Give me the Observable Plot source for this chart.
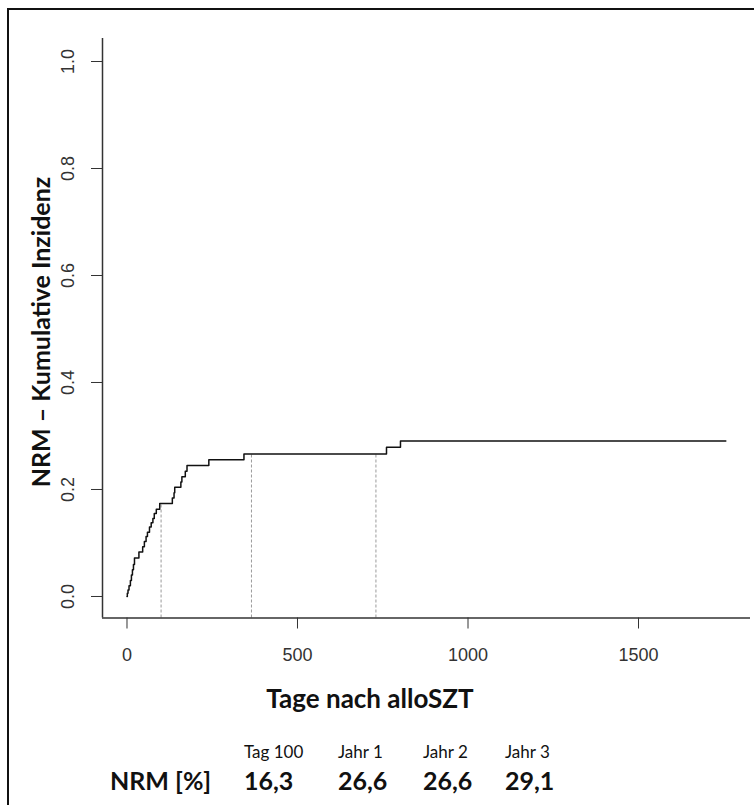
<!DOCTYPE html>
<html><head><meta charset="utf-8">
<script src="https://cdn.jsdelivr.net/npm/d3@7"></script>
<script src="https://cdn.jsdelivr.net/npm/@observablehq/plot@0.6"></script>
<style>
html,body{margin:0;padding:0;background:#fff;}
#wrap{position:relative;width:754px;height:805px;overflow:hidden;background:#fff;}
#border{position:absolute;left:7px;top:8px;width:900px;height:900px;border-left:2px solid #111;border-top:2px solid #111;z-index:5;pointer-events:none;}
#chart{position:absolute;left:0;top:0;}
.t{position:absolute;font-family:Lato,"Open Sans",sans-serif;color:#111;white-space:nowrap;line-height:1;}
#ytitle{left:40px;top:332px;font-size:25px;font-weight:700;transform:translate(-50%,-50%) rotate(-90deg);}
#xtitle{left:370px;top:698px;font-size:26px;font-weight:700;transform:translate(-50%,-50%);}
.lab{font-size:17px;font-weight:400;transform:translateY(-50%);}
.val{font-size:25px;font-weight:700;transform:translateY(-50%);}
</style></head><body>
<div id="wrap">
  <div id="chart"></div>
  <div class="t" id="ytitle"></div>
  <div class="t" id="xtitle"></div>
  <div id="table"></div>
  <div id="border"></div>
</div>
<script>
// ---- data ----
const eventDays   = [0, 1, 3, 6, 10, 13, 16, 19, 22, 35, 46, 51, 56, 60, 66, 71, 76, 80, 86, 96, 133, 138, 140, 158, 161, 171, 176, 240, 343, 761, 802];
const eventValues = [0, 0.006, 0.012, 0.02, 0.03, 0.04, 0.05, 0.06, 0.072, 0.083, 0.093, 0.103, 0.112, 0.12, 0.13, 0.138, 0.146, 0.155, 0.163, 0.174, 0.184, 0.194, 0.204, 0.214, 0.224, 0.234, 0.245, 0.2555, 0.2665, 0.279, 0.2905];
const lastDay = 1756;
const xTicks = [0, 500, 1000, 1500];
const yTicks = [0, 0.2, 0.4, 0.6, 0.8, 1.0];
const milestoneDays = [100, 365, 730];
const tableLabels = ["Tag 100", "Jahr 1", "Jahr 2", "Jahr 3"];
const tableValues = ["16,3", "26,6", "26,6", "29,1"];
const rowLabel = "NRM [%]";
const xTitle = "Tage nach alloSZT";
const yTitle = "NRM – Kumulative Inzidenz";

// ---- build ----
const points = eventDays.map((d, i) => ({day: d, value: eventValues[i]}));
points.push({day: lastDay, value: eventValues[eventValues.length - 1]});
const valueAt = day => { let v = 0; for (const p of points) if (p.day <= day) v = p.value; return v; };
const milestones = milestoneDays.map(d => ({day: d, value: valueAt(d)}));

const xDomain = [-71.8, 1828.4];
const yDomain = [-0.0402, 1.043];
const axisColor = "#333";

const chart = Plot.plot({
  width: 754, height: 670,
  marginLeft: 102, marginRight: 4, marginTop: 38, marginBottom: 52.5,
  x: {domain: xDomain},
  y: {domain: yDomain},
  style: {background: "transparent", fontFamily: "'Liberation Sans', Arial, sans-serif", color: axisColor},
  marks: [
    Plot.ruleX(milestones, {x: "day", y1: yDomain[0], y2: "value", stroke: "#9a9a9a", strokeWidth: 1, strokeDasharray: "3,2"}),
    Plot.line(points, {x: "day", y: "value", curve: "step-after", stroke: "#111", strokeWidth: 1.5}),
    Plot.ruleX([xDomain[0]], {stroke: axisColor, strokeWidth: 1.5}),
    Plot.ruleY([yDomain[0]], {stroke: axisColor, strokeWidth: 1.5}),
    Plot.axisX({ticks: xTicks, tickSize: 11, tickPadding: 19, fontSize: 18, label: null, stroke: axisColor, fill: axisColor, tickFormat: d => String(d)}),
    Plot.axisY({ticks: yTicks, tickSize: 11, label: null, stroke: axisColor, fill: "none", tickFormat: () => ""}),
    Plot.text(yTicks, {x: xDomain[0], y: d => d, text: d => d3.format(".1f")(d), rotate: -90, dx: -34.5, fontSize: 18, fill: axisColor, textAnchor: "middle", lineAnchor: "middle"})
  ]
});
document.getElementById("chart").appendChild(chart);
document.getElementById("xtitle").textContent = xTitle;
document.getElementById("ytitle").textContent = yTitle;

// table below the chart
const colLeft = [244, 338, 423, 505];
const table = document.getElementById("table");
function addText(cls, txt, left, top) {
  const el = document.createElement("div");
  el.className = "t " + cls;
  el.textContent = txt;
  el.style.left = left + "px";
  el.style.top = top + "px";
  table.appendChild(el);
}
tableLabels.forEach((s, i) => addText("lab", s, colLeft[i], 751));
tableValues.forEach((s, i) => addText("val", s, colLeft[i], 780));
addText("val", rowLabel, 110, 780);
</script>
</body></html>
